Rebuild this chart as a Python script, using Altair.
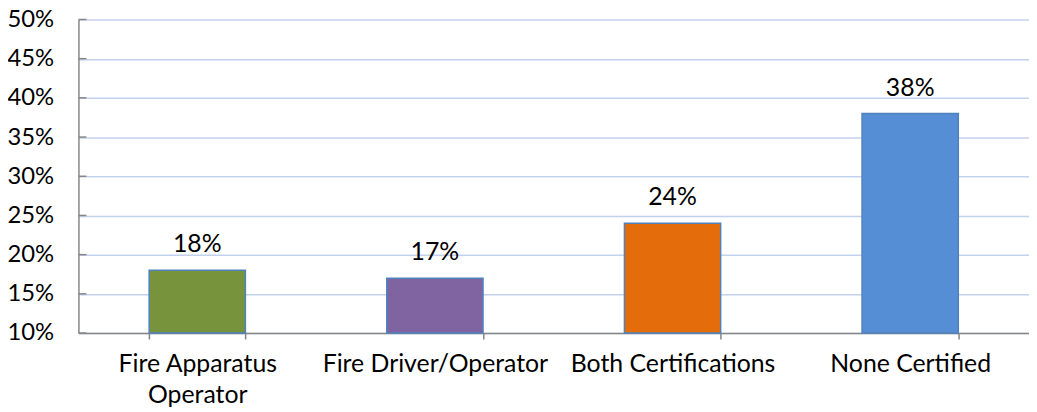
import altair as alt
import pandas as pd

categories = ["Fire Apparatus Operator", "Fire Driver/Operator", "Both Certifications", "None Certified"]
values = [0.18, 0.17, 0.24, 0.38]
colors = ["#77933C", "#8064A2", "#E46C0A", "#558ED5"]
y_ticks = [0.10, 0.15, 0.20, 0.25, 0.30, 0.35, 0.40, 0.45, 0.50]
baseline = 0.10

FONT = "Lato"
FS = 25

df = pd.DataFrame({"category": categories, "value": values, "color": colors})
ticks_df = pd.DataFrame({"t": y_ticks})

x_axis = alt.Axis(
    title=None,
    labelAngle=0,
    labelFont=FONT,
    labelFontSize=FS,
    labelColor="#000000",
    labelBaseline="top",
    labelLineHeight=31,
    labelPadding=13,
    labelLimit=0,
    labelOverlap=False,
    labelExpr="datum.label == 'Fire Apparatus Operator' ? ['Fire Apparatus', 'Operator'] : datum.label",
    tickBand="extent",
    ticks=True,
    tickSize=6,
    tickColor="#868686",
    tickWidth=1.5,
    domainColor="#868686",
    domainWidth=1.5,
    grid=False,
)

y_axis = alt.Axis(
    title=None,
    values=y_ticks,
    format=".0%",
    labelFont=FONT,
    labelFontSize=24,
    labelColor="#000000",
    labelPadding=25,
    labelOverlap=False,
    labelFlush=False,
    labelLimit=0,
    ticks=False,
    tickSize=0,
    domainColor="#868686",
    domainWidth=1.5,
    grid=True,
    gridColor="#C3D2EC",
    gridWidth=1.5,
)

x_scale = alt.Scale(paddingInner=0.595, paddingOuter=0.2975)
y_scale = alt.Scale(domain=[0.10, 0.50], zero=False, nice=False)

bars = alt.Chart(df).mark_bar(strokeWidth=1.5, stroke="#4F81BD").encode(
    x=alt.X("category:N", sort=categories, scale=x_scale, axis=x_axis),
    y=alt.Y("value:Q", scale=y_scale, axis=y_axis),
    y2=alt.datum(baseline),
    color=alt.Color("color:N", scale=None, legend=None),
)

labels = alt.Chart(df).mark_text(
    font=FONT, fontSize=FS, color="#000000", baseline="alphabetic", dy=-18
).encode(
    x=alt.X("category:N", sort=categories, scale=x_scale, axis=x_axis),
    y=alt.Y("value:Q", scale=y_scale, axis=y_axis),
    text=alt.Text("value:Q", format=".0%"),
)

yticks = alt.Chart(ticks_df).mark_rule(color="#868686", strokeWidth=1.5).encode(
    x=alt.value(0),
    x2=alt.value(8),
    y=alt.Y("t:Q", scale=y_scale, axis=y_axis),
)

chart = (
    alt.layer(bars, yticks, labels)
    .properties(
        width=958,
        height=316,
        autosize=alt.AutoSizeParams(type="none"),
        padding={"left": 71, "top": 10, "right": 0, "bottom": 76},
        background="white",
    )
    .configure_view(stroke=None)
)

chart.save("out.html", embed_options={"renderer": "svg", "actions": False})
